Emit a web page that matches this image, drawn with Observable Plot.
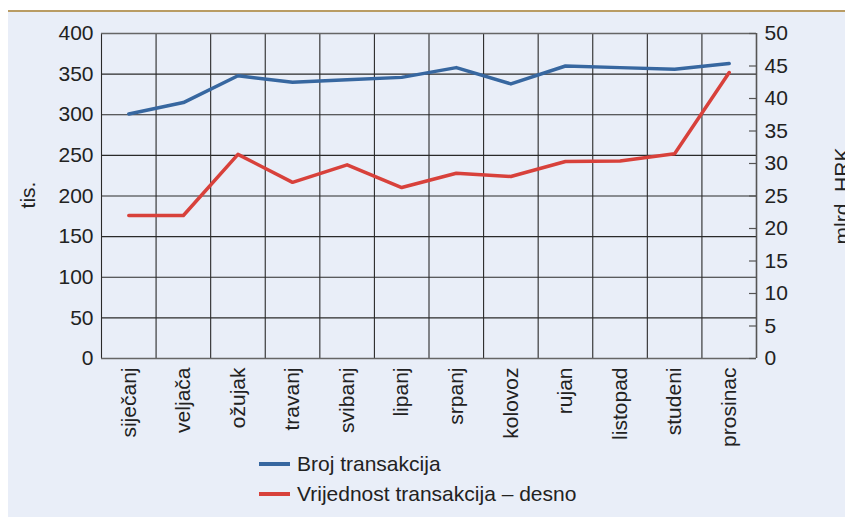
<!DOCTYPE html>
<html><head><meta charset="utf-8">
<script src="https://cdn.jsdelivr.net/npm/d3@7"></script>
<script src="https://cdn.jsdelivr.net/npm/@observablehq/plot@0.6"></script>
<style>
body{margin:0;background:#fff;font-family:"Liberation Sans",Arial,sans-serif;}
#wrap{position:absolute;left:8px;top:10px;width:837px;height:505px;border-top:2px solid #b99c64;background:#e9eef8;overflow:hidden}
#chart{position:absolute;left:0;top:0}
.ylab{position:absolute;font-size:21px;color:#222;transform:translate(-50%,-50%) rotate(-90deg);white-space:nowrap}
.leg{position:absolute;left:251px;font-size:21px;color:#222;display:flex;align-items:center;height:24px;transform:translateY(-50%)}
.leg .sw{display:inline-block;width:31px;height:3.5px;margin-right:7px}
</style></head>
<body>
<div id="wrap">
  <div id="chart"></div>
  <div class="ylab" style="left:20px;top:183px">tis.</div>
  <div class="ylab" style="left:834px;top:184px">mlrd. HRK</div>
  <div class="leg" style="top:452px"><span class="sw" style="background:#3767a0"></span>Broj transakcija</div>
  <div class="leg" style="top:482px"><span class="sw" style="background:#d8413b"></span>Vrijednost transakcija – desno</div>
</div>
<script>
const months = ["siječanj","veljača","ožujak","travanj","svibanj","lipanj","srpanj","kolovoz","rujan","listopad","studeni","prosinac"];
const brojTransakcija = [301, 315, 348, 340, 343, 346, 358, 338, 360, 358, 356, 363];
const vrijednostTransakcija = [22.0, 22.0, 31.4, 27.1, 29.8, 26.3, 28.5, 28.0, 30.3, 30.4, 31.5, 44.0];
const leftTicks = d3.range(0, 401, 50);
const rightTicks = d3.range(0, 51, 5);
const ratio = 400 / 50;

const blue = months.map((m, i) => ({i: i + 0.5, v: brojTransakcija[i]}));
const red = months.map((m, i) => ({i: i + 0.5, v: vrijednostTransakcija[i] * ratio}));

const W = 837, H = 440, mL = 93, mR = 89;
const plot = Plot.plot({
  width: W, height: H,
  marginTop: 21, marginLeft: mL, marginRight: mR, marginBottom: 94,
  style: {fontFamily: "'Liberation Sans', Arial, sans-serif", fontSize: "21px", color: "#222", background: "transparent", overflow: "visible"},
  x: {domain: [0, 12], axis: null},
  y: {domain: [0, 400], axis: null},
  marks: [
    Plot.ruleY(leftTicks, {stroke: "#2a2a2a", strokeWidth: 1.1}),
    Plot.ruleX(d3.range(0, 13), {stroke: "#2a2a2a", strokeWidth: 1.1}),
    Plot.ruleY([0, 400], {stroke: "#666", strokeWidth: 1.5}),
    Plot.ruleX([12], {stroke: "#555", strokeWidth: 1.5}),
    Plot.ruleY(rightTicks.map(d => d * ratio), {insetLeft: W - mL - mR - 7, stroke: "#555", strokeWidth: 1.2}),
    Plot.axisY({anchor: "left", ticks: leftTicks, tickSize: 0, tickPadding: 8, label: null, fontSize: 21}),
    Plot.axisY({anchor: "right", ticks: rightTicks.map(d => d * ratio), tickFormat: d => d / ratio, tickSize: 0, tickPadding: 8, label: null, fontSize: 21}),
    Plot.axisX({ticks: d3.range(0.5, 12), tickFormat: d => months[Math.floor(d)], tickRotate: -90, tickSize: 0, tickPadding: 9, label: null, fontSize: 21}),
    Plot.line(red, {x: "i", y: "v", stroke: "#d8413b", strokeWidth: 3.5}),
    Plot.line(blue, {x: "i", y: "v", stroke: "#3767a0", strokeWidth: 3.5})
  ]
});
document.getElementById("chart").appendChild(plot);
</script>
</body></html>
